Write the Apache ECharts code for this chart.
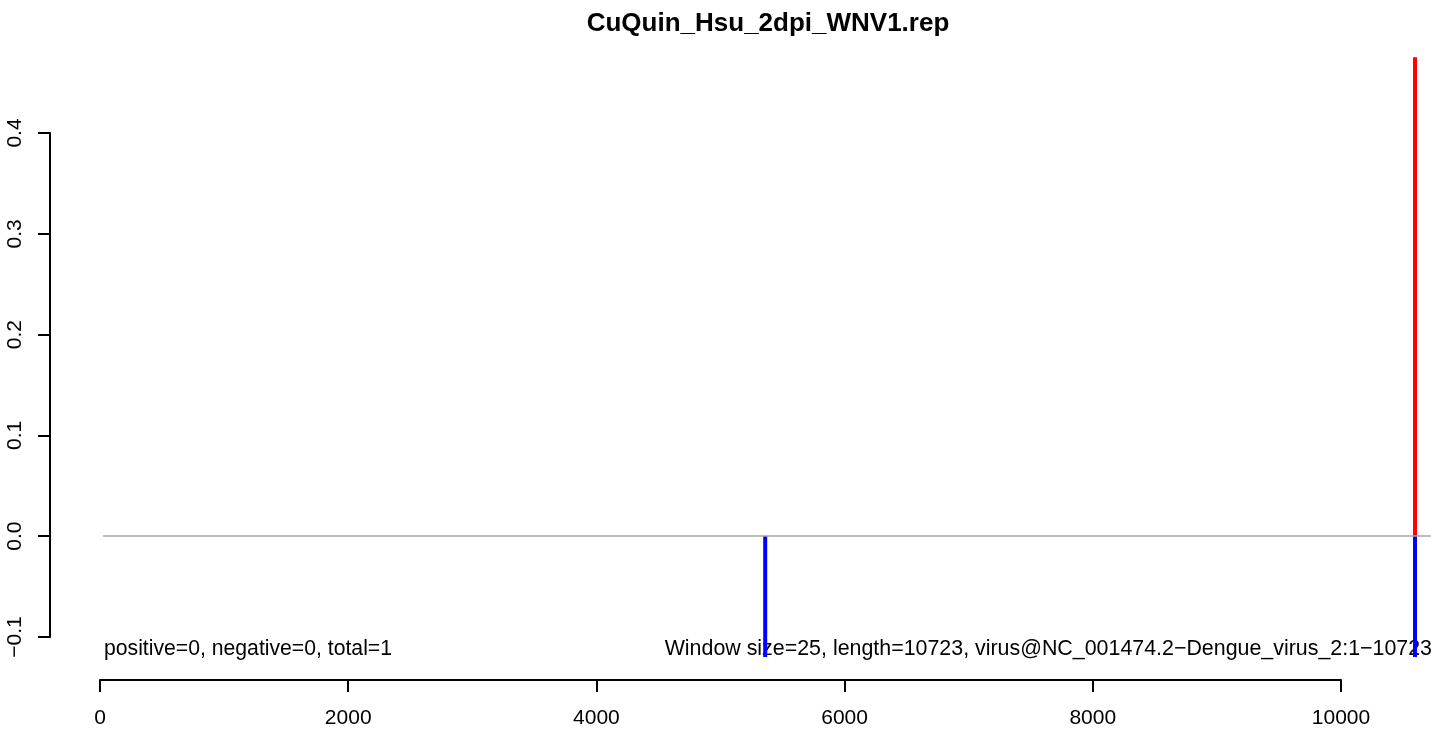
<!DOCTYPE html>
<html>
<head>
<meta charset="utf-8">
<title>CuQuin_Hsu_2dpi_WNV1.rep</title>
<script src="https://cdn.jsdelivr.net/npm/echarts@6/dist/echarts.min.js"></script>
<style>
  html, body { margin: 0; padding: 0; background: #ffffff; }
  #chart { width: 1436px; height: 730px; }
</style>
</head>
<body>
<div id="chart"></div>
<script>
// Sample / genome info
const plotTitle = 'CuQuin_Hsu_2dpi_WNV1.rep';
const countsText = 'positive=0, negative=0, total=1';
const infoText = 'Window size=25, length=10723, virus@NC_001474.2\u2212Dengue_virus_2:1\u221210723';

// Genome span covered by the windows (baseline)
const spanStart = 25;
const spanEnd = 10723;

// Windows with signal: position and score
const positiveSites = [10596];
const positiveScores = [0.475];
const negativeSites = [5360, 10596];
const negativeScores = [-0.12, -0.12];

// Axis ticks
const xTicks = [0, 2000, 4000, 6000, 8000, 10000];
const xTickLabels = ['0', '2000', '4000', '6000', '8000', '10000'];
const yTicks = [-0.1, 0.0, 0.1, 0.2, 0.3, 0.4];
const yTickLabels = ['\u22120.1', '0.0', '0.1', '0.2', '0.3', '0.4'];

// Plot region (data range with margin) used to place the marks
const xRange = [0, 10765];
const yRange = [-0.15, 0.5];

const FONT = '"Liberation Sans", Arial, Helvetica, sans-serif';

function labelFor(ticks, labels) {
  return function (v) {
    const i = ticks.findIndex(t => Math.abs(t - v) < 1e-9);
    return i >= 0 ? labels[i] : '';
  };
}

function stick(x, v, color) {
  return {
    type: 'line',
    xAxisIndex: 0, yAxisIndex: 0,
    data: [[x, 0], [x, v]],
    symbol: 'none',
    silent: true,
    z: 2,
    lineStyle: { color: color, width: 4, cap: 'butt' }
  };
}

const series = [];
positiveSites.forEach((x, i) => series.push(stick(x, positiveScores[i], '#ff0000')));
negativeSites.forEach((x, i) => series.push(stick(x, negativeScores[i], '#0000ff')));
series.push({
  type: 'line',
  xAxisIndex: 0, yAxisIndex: 0,
  data: [[spanStart, 0], [spanEnd, 0]],
  symbol: 'none',
  silent: true,
  z: 3,
  lineStyle: { color: '#a6a6a6', width: 1.5 }
});

const hiddenAxis = {
  axisLine: { show: false }, axisTick: { show: false },
  axisLabel: { show: false }, splitLine: { show: false }
};

const chart = echarts.init(document.getElementById('chart'), null, { renderer: 'canvas' });
chart.setOption({
  animation: false,
  backgroundColor: '#ffffff',
  grid: [
    // marks
    { left: 100, width: 1336, top: 32, height: 655.2, containLabel: false },
    // visible axes spanning the tick range
    { left: 100, width: 1241, top: 133, height: 504, containLabel: false }
  ],
  xAxis: [
    Object.assign({ type: 'value', gridIndex: 0, min: xRange[0], max: xRange[1] }, hiddenAxis),
    {
      type: 'value',
      gridIndex: 1,
      min: xTicks[0],
      max: xTicks[xTicks.length - 1],
      interval: xTicks[1] - xTicks[0],
      offset: 43,
      axisLine: { show: true, onZero: false, lineStyle: { color: '#000', width: 2 } },
      axisTick: { show: true, inside: false, length: 12, lineStyle: { color: '#000', width: 2 } },
      axisLabel: { fontSize: 21, color: '#000', fontFamily: FONT, margin: 28,
                   showMinLabel: true, showMaxLabel: true,
                   formatter: labelFor(xTicks, xTickLabels) },
      splitLine: { show: false }
    }
  ],
  yAxis: [
    Object.assign({ type: 'value', gridIndex: 0, min: yRange[0], max: yRange[1] }, hiddenAxis),
    {
      type: 'value',
      gridIndex: 1,
      min: yTicks[0],
      max: yTicks[yTicks.length - 1],
      interval: 0.1,
      offset: 50,
      axisLine: { show: true, onZero: false, lineStyle: { color: '#000', width: 2 } },
      axisTick: { show: true, inside: false, length: 12, lineStyle: { color: '#000', width: 2 } },
      axisLabel: {
        fontSize: 21, color: '#000', fontFamily: FONT, rotate: 90, margin: 24,
        showMinLabel: true, showMaxLabel: true,
        formatter: labelFor(yTicks, yTickLabels)
      },
      splitLine: { show: false }
    }
  ],
  graphic: [
    {
      type: 'text', x: 768, y: 24, silent: true,
      style: { text: plotTitle, fill: '#000', font: 'bold 26px ' + FONT,
               textAlign: 'center', textVerticalAlign: 'middle', align: 'center', verticalAlign: 'middle' }
    },
    {
      type: 'text', x: 104, y: 649, silent: true,
      style: { text: countsText, fill: '#000', font: '21.2px ' + FONT,
               textAlign: 'left', textVerticalAlign: 'middle', align: 'left', verticalAlign: 'middle' }
    },
    {
      type: 'text', x: 1432, y: 649, silent: true,
      style: { text: infoText, fill: '#000', font: '21.4px ' + FONT,
               textAlign: 'right', textVerticalAlign: 'middle', align: 'right', verticalAlign: 'middle' }
    }
  ],
  series: series
});
</script>
</body>
</html>
